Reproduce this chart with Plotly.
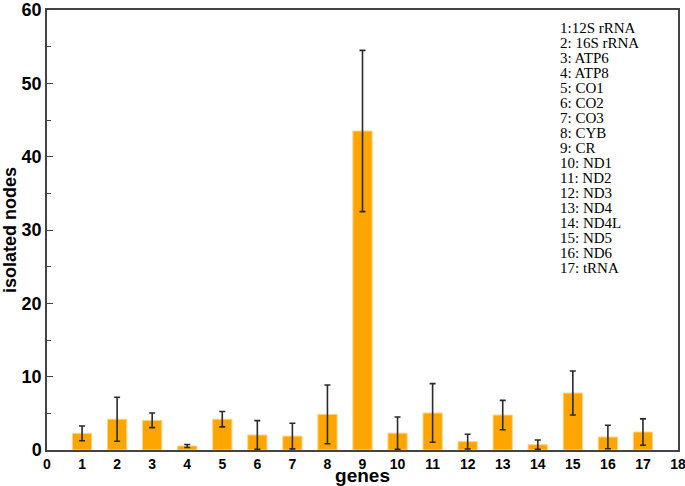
import plotly.graph_objects as go

genes = list(range(1, 18))
isolated_nodes = [2.27, 4.2, 4.05, 0.55, 4.2, 2.05, 1.9, 4.86, 43.5, 2.3,
                  5.05, 1.14, 4.77, 0.73, 7.77, 1.77, 2.45]
err = [1.0, 3.0, 1.0, 0.2, 1.05, 1.95, 1.75, 4.0, 11.0, 2.2,
       4.0, 1.0, 2.0, 0.63, 3.0, 1.6, 1.8]
gene_names = ["1:12S rRNA", "2: 16S rRNA", "3: ATP6", "4: ATP8", "5: CO1", "6: CO2",
              "7: CO3", "8: CYB", "9: CR", "10: ND1", "11: ND2", "12: ND3",
              "13: ND4", "14: ND4L", "15: ND5", "16: ND6", "17: tRNA"]

fig = go.Figure()
fig.add_trace(go.Bar(
    x=genes, y=isolated_nodes, width=0.55,
    marker=dict(color="#FFA500", line=dict(color="#FFD58A", width=1)),
    error_y=dict(type="data", array=err, visible=True, color="#2a2a2a",
                 thickness=1.6, width=3),
    showlegend=False,
))

# gene key, one line per annotation so the spacing stays tight
for i, name in enumerate(gene_names):
    fig.add_annotation(
        x=0.81, y=0.959 - i * 0.0341, xref="paper", yref="paper",
        xanchor="left", yanchor="middle", showarrow=False, text=name,
        font=dict(family="Liberation Serif", size=15, color="black"),
    )

fig.update_layout(
    width=685, height=486,
    margin=dict(l=47, r=7, t=10, b=36),
    plot_bgcolor="white", paper_bgcolor="white",
    font=dict(family="Liberation Sans", color="black"),
    xaxis=dict(
        range=[0, 18], tickmode="linear", tick0=0, dtick=1, automargin=False,
        showgrid=False, zeroline=False, showline=True, mirror=True,
        linecolor="#444444", linewidth=1.5, ticks="",
        ticklabeloverflow="allow",
        tickfont=dict(size=14, family="Liberation Sans"),
        title=dict(text="<b>genes</b>", font=dict(size=19), standoff=2),
    ),
    yaxis=dict(
        range=[0, 60], tickmode="linear", tick0=0, dtick=10, automargin=False,
        showgrid=False, zeroline=False, showline=True, mirror=True,
        linecolor="#444444", linewidth=1.5, ticks="inside", ticklen=6,
        tickcolor="#444444", ticklabeloverflow="allow",
        minor=dict(dtick=5, ticks="inside", ticklen=4, tickcolor="#444444"),
        tickfont=dict(size=18, family="Liberation Sans"),
        title=dict(text="<b>isolated nodes</b>", font=dict(size=18), standoff=4),
    ),
)
fig.update_xaxes(tickprefix="<b>", ticksuffix="</b>")
fig.update_yaxes(tickprefix="<b>", ticksuffix="</b>")

# drop the browser's default body margin so the figure sits at the window corner
fig.write_html("out.html", config={"displayModeBar": False},
               post_script="document.body.style.margin='0px';")
